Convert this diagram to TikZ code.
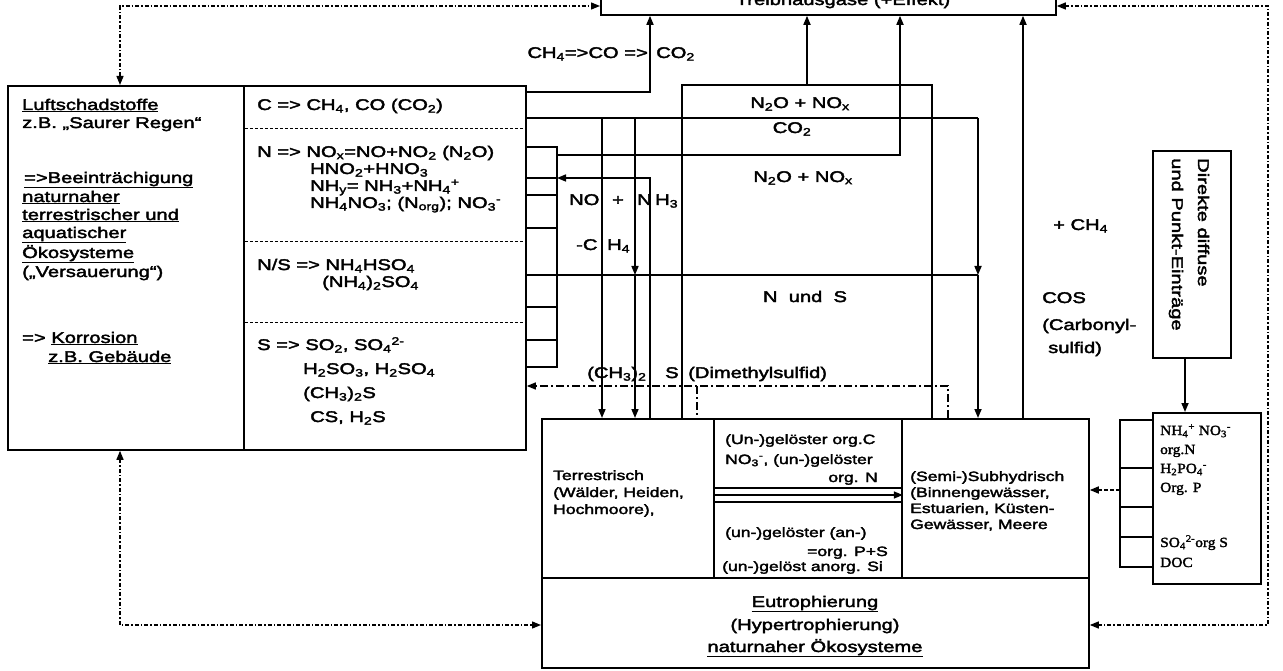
\documentclass[tikz,border=0pt]{standalone}
\usepackage{fontspec}
\setmainfont[FakeStretch=1.3,FakeBold=2.5]{Liberation Sans}
\newfontfamily\nhfont[FakeStretch=1.1,FakeBold=2]{Liberation Serif}
\usetikzlibrary{arrows.meta}
\newcommand{\sbs}[1]{\textsubscript{#1}}
\newcommand{\sps}[1]{\textsuperscript{#1}}
\begin{document}
\begin{tikzpicture}[x=1pt,y=-1pt,
  box/.style={draw, line width=1.8pt, inner sep=0pt, anchor=north west},
  tx/.style={inner sep=0pt, anchor=base west, font=\fontsize{15.5}{17}\selectfont},
  sm/.style={inner sep=0pt, anchor=base west, font=\fontsize{13.5}{16}\selectfont},
  nht/.style={inner sep=0pt, anchor=base west, font=\nhfont\fontsize{14}{16}\selectfont},
  ln/.style={line width=1.6pt},
  arr/.style={line width=1.6pt, -{Triangle[length=9pt,width=7pt]}},
  darr/.style={line width=1.3pt, dash pattern=on 4pt off 2pt on 1.5pt off 2pt, {Triangle[length=9pt,width=7pt]}-{Triangle[length=9pt,width=7pt]}},
  dms/.style={line width=1.4pt, dash pattern=on 8pt off 3pt on 2pt off 3pt},
  sepl/.style={line width=1pt, dash pattern=on 3pt off 2pt}
]
\useasboundingbox (0,0) rectangle (1283,671);
\fill[white] (0,0) rectangle (1283,671);

% boxes
\node[box, minimum width=455pt, minimum height=44pt] (tb) at (600,-30) {};
\node[box, minimum width=236pt, minimum height=364pt] (lbL) at (7,85) {};
\node[box, minimum width=282pt, minimum height=364pt] (lbR) at (243,85) {};
\node[box, minimum width=172pt, minimum height=159pt] (terr) at (541,418) {};
\node[box, minimum width=188pt, minimum height=159pt] (mid) at (713,418) {};
\node[box, minimum width=187pt, minimum height=159pt] (sub) at (901,418) {};
\node[box, minimum width=547pt, minimum height=90pt] (eut) at (541,577) {};
\node[box, minimum width=78pt, minimum height=207pt] (dir) at (1152,150) {};
\node[box, minimum width=108pt, minimum height=171pt] (nh) at (1152,412) {};

% top box text (cut by the page edge as in the reference)
\node[tx, anchor=base] (tbt) at (843,5) {Treibhausgase (+Effekt)};

% separators in left box
\draw[sepl] (lbL.east |- 0,129) -- (lbR.east |- 0,129);
\draw[sepl] (lbL.east |- 0,242) -- (lbR.east |- 0,242);
\draw[sepl] (lbL.east |- 0,322) -- (lbR.east |- 0,322);

% left column text
\node[tx] (l1) at (22,110) {\underline{Luftschadstoffe}};
\node[tx] (l2) at (22,128) {z.B. „Saurer Regen“};
\node[tx] (l3) at (24,183) {\underline{=>Beeinträchigung}};
\node[tx] (l4) at (22,202) {\underline{naturnaher}};
\node[tx] (l5) at (22,220) {\underline{terrestrischer und}};
\node[tx] (l6) at (22,238) {\underline{aquatischer}};
\node[tx] (l7) at (22,258) {\underline{Ökosysteme}};
\node[tx] (l8) at (22,277) {(„Versauerung“)};
\node[tx] (l9) at (22,343) {=> \underline{Korrosion}};
\node[tx] (l10) at (48,362) {\underline{z.B. Gebäude}};

% right column text
\node[tx] (r1) at (257,110) {C => CH\sbs{4}, CO (CO\sbs{2})};
\node[tx] (r2) at (257,157) {N => NO\sbs{x}=NO+NO\sbs{2} (N\sbs{2}O)};
\node[tx] (r3) at (310,174) {HNO\sbs{2}+HNO\sbs{3}};
\node[tx] (r4) at (310,191) {NH\sbs{y}= NH\sbs{3}+NH\sbs{4}\sps{+}};
\node[tx] (r5) at (310,208) {NH\sbs{4}NO\sbs{3}; (N\sbs{org}); NO\sbs{3}\sps{-}};
\node[tx] (r6) at (257,270) {N/S => NH\sbs{4}HSO\sbs{4}};
\node[tx] (r7) at (322,287) {(NH\sbs{4})\sbs{2}SO\sbs{4}};
\node[tx] (r8) at (257,350) {S => SO\sbs{2}, SO\sbs{4}\sps{2-}};
\node[tx] (r9) at (303,374) {H\sbs{2}SO\sbs{3}, H\sbs{2}SO\sbs{4}};
\node[tx] (r10) at (303,398) {(CH\sbs{3})\sbs{2}S};
\node[tx] (r11) at (310,422) {CS, H\sbs{2}S};

% labels in the middle
\node[tx, anchor=base east] (c1) at (648,58) {CH\sbs{4}=>CO =>};
\node[tx] (c2) at (656,58) {CO\sbs{2}};
\node[tx, anchor=base] (n1) at (800,108) {N\sbs{2}O + NO\sbs{x}};
\node[tx, anchor=base] (n2) at (792,133) {CO\sbs{2}};
\node[tx, anchor=base] (n3) at (803,182) {N\sbs{2}O + NO\sbs{x}};
\node[tx] (a1) at (569,205) {NO};
\node[tx, anchor=base] (a2) at (618,205) {+};
\node[tx] (a3) at (637,205) {N};
\node[tx] (a4) at (655,205) {H\sbs{3}};
\node[tx] (b1) at (576,250) {-C};
\node[tx] (b2) at (607,250) {H\sbs{4}};
\node[tx, anchor=base] (ns) at (805,302) {N\ \ und\ \ S};
\node[tx] (ch) at (1053,230) {+ CH\sbs{4}};
\node[tx] (cos1) at (1042,303) {COS};
\node[tx] (cos2) at (1042,330) {(Carbonyl-};
\node[tx] (cos3) at (1048,353) {sulfid)};
\node[tx] (d1) at (587,378) {(CH\sbs{3})\sbs{2}};
\node[tx] (d2) at (665,378) {S};
\node[tx] (d3) at (688,378) {(Dimethylsulfid)};

% lower boxes text
\node[sm] (t1) at (553,480) {Terrestrisch};
\node[sm] (t2) at (553,497) {(Wälder, Heiden,};
\node[sm] (t3) at (553,514) {Hochmoore),};
\node[sm] (m1) at (725,444) {(Un-)gelöster org.C};
\node[sm] (m2) at (725,464) {NO\sbs{3}\sps{-}, (un-)gelöster};
\node[sm, anchor=base east] (m3) at (878,482) {org. N};
\node[sm] (m4) at (725,537) {(un-)gelöster (an-)};
\node[sm, anchor=base east] (m5) at (888,556) {=org. P+S};
\node[sm] (m6) at (722,571) {(un-)gelöst anorg. Si};
\node[sm] (s1) at (910,481) {(Semi-)Subhydrisch};
\node[sm] (s2) at (910,497) {(Binnengewässer,};
\node[sm] (s3) at (910,513) {Estuarien, Küsten-};
\node[sm] (s4) at (910,529) {Gewässer, Meere};
\node[tx, anchor=base] (e1) at (815,607) {\underline{Eutrophierung}};
\node[tx, anchor=base] (e2) at (815,630) {(Hypertrophierung)};
\node[tx, anchor=base] (e3) at (815,652) {\underline{naturnaher Ökosysteme}};
\node[nht] (h1) at (1160,435) {NH\sbs{4}\sps{+} NO\sbs{3}\sps{-}};
\node[nht] (h2) at (1160,454) {org.N};
\node[nht] (h3) at (1160,473) {H\sbs{2}PO\sbs{4}\sps{-}};
\node[nht] (h4) at (1160,492) {Org. P};
\node[nht] (h5) at (1160,547) {SO\sbs{4}\sps{2-}org S};
\node[nht] (h6) at (1160,567) {DOC};
\node[inner sep=0pt, rotate=-90, anchor=west, align=left, font=\fontsize{15.5}{26}\selectfont] (dirt) at (1189,158) {Direkte diffuse\\und Punkt-Einträge};

% dotted feedback loops
\draw[darr] (120,0 |- lbL.north) -- (120,6) -- (tb.west |- 0,6);
\draw[darr] (tb.east |- 0,6) -- (1268,6) -- (1268,625) -- (eut.east |- 0,625);
\draw[darr] (120,0 |- lbL.south) -- (120,625) -- (eut.west |- 0,625);

% C lines
\draw[arr] (lbR.east |- 0,92) -- (650,92) -- (650,0 |- tb.south);
\draw[ln] (lbR.east |- 0,118) -- (978,118);
\draw[arr] (978,118) -- (978,275);
\draw[arr] (978,275) -- (978,0 |- sub.north);
\draw[ln] (lbR.east |- 0,275) -- (978,275);
\draw[arr] (602,118) -- (602,0 |- terr.north);
\draw[arr] (635,118) -- (635,275);
\draw[arr] (635,275) -- (635,0 |- terr.north);

% bracket at left box
\draw[ln] (lbR.east |- 0,147) -- (557,147) -- (557,367) -- (lbR.east |- 0,367);
\foreach \yy in {178,195,228,307,340} \draw[ln] (lbR.east |- 0,\yy) -- (557,\yy);
\draw[arr] (557,155) -- (900,155) -- (900,0 |- tb.south);
\draw[arr] (650,0 |- terr.north) -- (650,178) -- (557,178);

% N2O exchange path
\draw[ln] (682,0 |- terr.north) -- (682,85) -- (932,85) -- (932,0 |- sub.north);
\coordinate (nTop) at (807,85);
\draw[arr] (nTop) -- (nTop |- tb.south);

% CH4 / COS line
\draw[arr] (1023,0 |- sub.north) -- (1023,0 |- tb.south);

% Dimethylsulfid
\draw[dms, -{Triangle[length=9pt,width=7pt]}] (948,0 |- sub.north) -- (948,386) -- (lbR.east |- 0,386);
\draw[dms] (697,386) -- (697,0 |- terr.north);

% triple arrow between terrestrial and subhydric
\draw[ln] (mid.west |- 0,488) -- (mid.east |- 0,488);
\draw[arr] (mid.west |- 0,495) -- (mid.east |- 0,495);
\draw[ln] (mid.west |- 0,502) -- (mid.east |- 0,502);

% right-hand inputs
\draw[ln] (nh.west |- 0,420) -- (1120,420) -- (1120,567) -- (nh.west |- 0,567);
\foreach \yy in {468,507,537} \draw[ln] (nh.west |- 0,\yy) -- (1120,\yy);
\draw[arr, dash pattern=on 4pt off 2pt] (1120,490) -- (sub.east |- 0,490);
\draw[arr] (1185,0 |- dir.south) -- (1185,0 |- nh.north);
\end{tikzpicture}
\end{document}
